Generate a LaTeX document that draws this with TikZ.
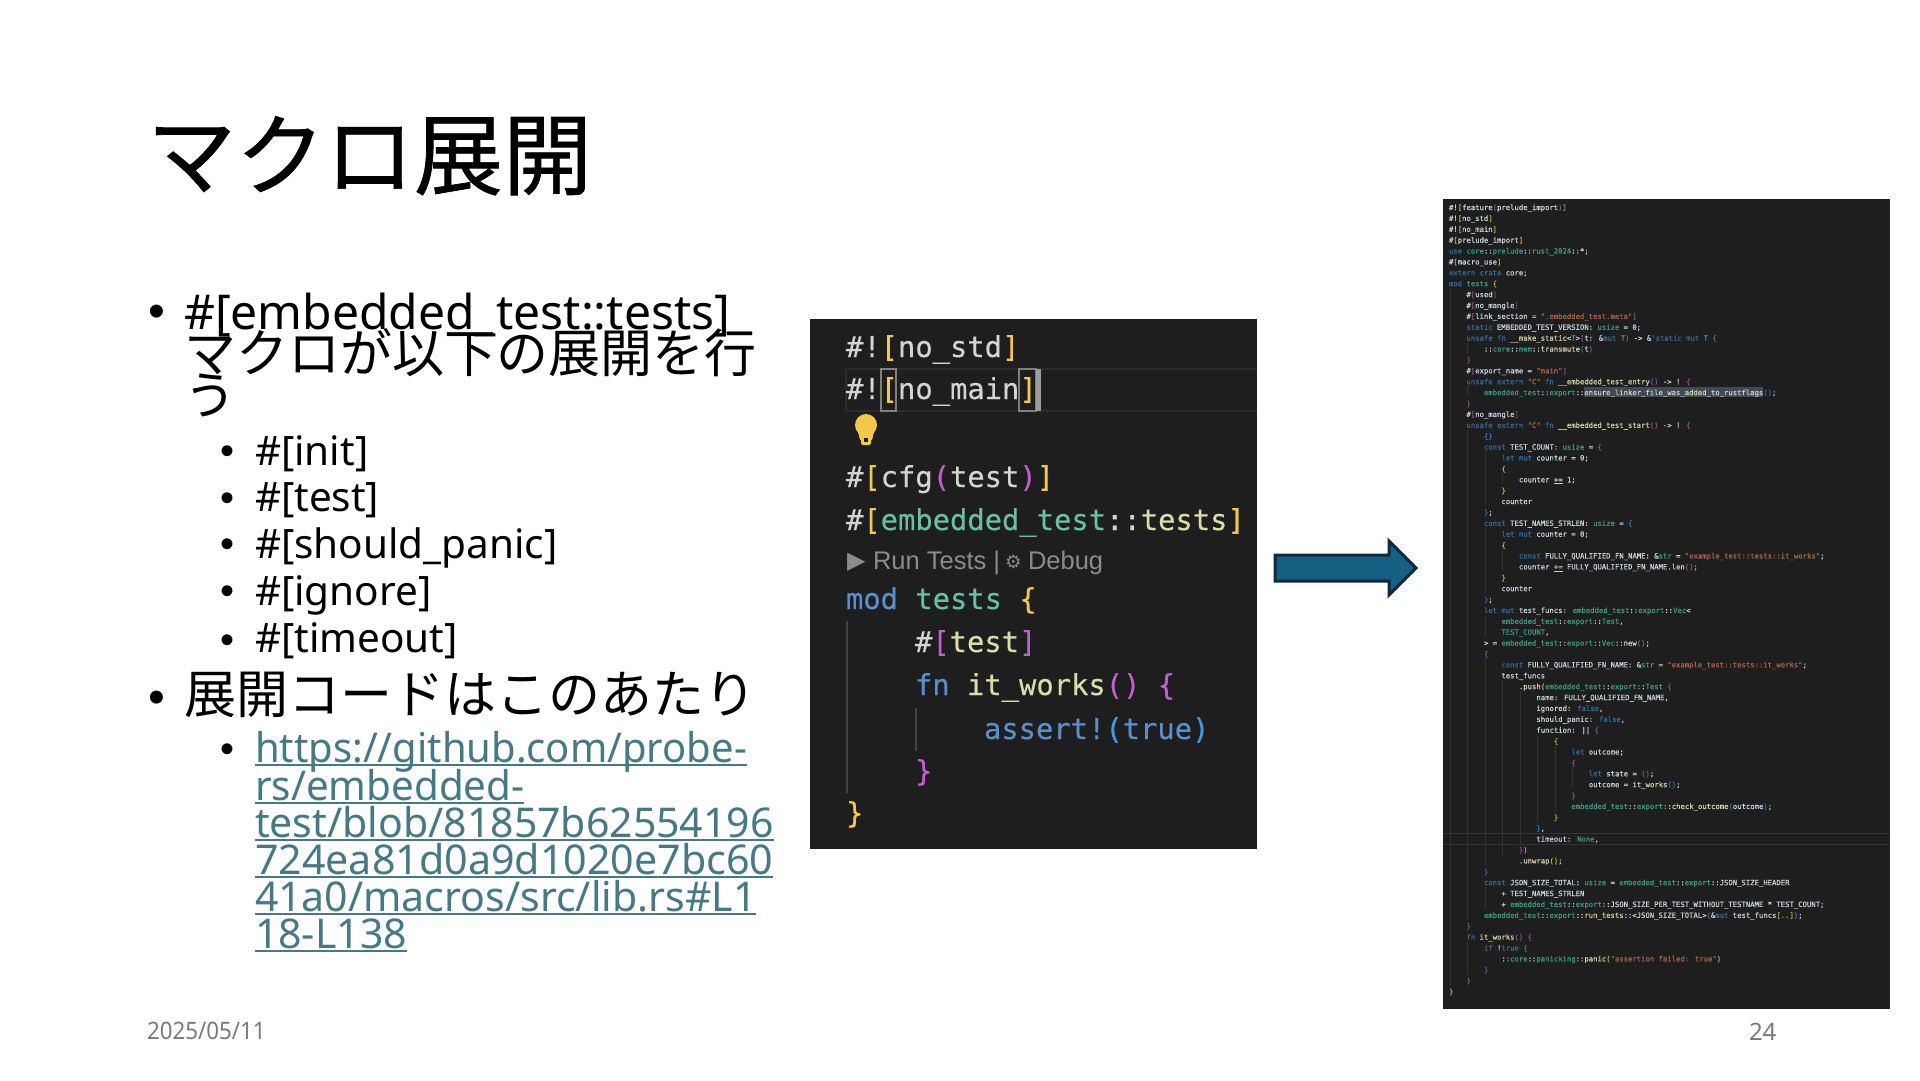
\documentclass[tikz,border=0pt]{standalone}
\usepackage{fontspec}
\setmainfont{Noto Sans}
\newfontfamily\cjkf{Noto Sans CJK JP}
\newfontfamily\cjktitle[FakeBold=0.8]{Noto Sans CJK JP}
\newfontfamily\monof[FakeBold=0.35]{DejaVu Sans Mono}
\newfontfamily\monos[FakeBold=0.5]{DejaVu Sans Mono}
\newfontfamily\bulf{Liberation Sans}
\newfontfamily\symf{DejaVu Sans}
\definecolor{pan}{HTML}{1E1E1E}
\definecolor{linkc}{HTML}{467886}
\definecolor{footc}{HTML}{7A7A7A}
\definecolor{cw}{HTML}{D4D4D4}
\definecolor{cy}{HTML}{F2C94C}
\definecolor{cp}{HTML}{C061CB}
\definecolor{ct}{HTML}{68BFA6}
\definecolor{cf}{HTML}{DCDCAA}
\definecolor{cb}{HTML}{5B8FCB}
\definecolor{cbb}{HTML}{3D9BE9}
\definecolor{gl}{HTML}{8C8C8C}
\definecolor{sk}{HTML}{336B9C}
\definecolor{sv}{HTML}{C4D4DC}
\definecolor{st}{HTML}{3C9A84}
\definecolor{ss}{HTML}{A5654A}
\definecolor{sp}{HTML}{8E4C8E}
\definecolor{sb}{HTML}{2F74B0}
\definecolor{sy}{HTML}{C8AE3C}
\definecolor{sf}{HTML}{D2D2A6}
\definecolor{gd}{HTML}{333333}
\definecolor{activel}{HTML}{2C2C2C}
\definecolor{boxc}{HTML}{808080}
\definecolor{cursorc}{HTML}{9C9C9C}
\definecolor{guidebig}{HTML}{424242}
\definecolor{selc}{HTML}{3E4A5A}
\definecolor{arrf}{HTML}{156082}
\definecolor{arrd}{HTML}{0E2A3F}
\newcommand\zk[1]{\textcolor{sk}{#1}}
\newcommand\zv[1]{\textcolor{sv}{#1}}
\newcommand\zt[1]{\textcolor{st}{#1}}
\newcommand\zs[1]{\textcolor{ss}{#1}}
\newcommand\zp[1]{\textcolor{sp}{#1}}
\newcommand\zb[1]{\textcolor{sb}{#1}}
\newcommand\zy[1]{\textcolor{sy}{#1}}
\newcommand\zf[1]{\textcolor{sf}{#1}}
\newcommand\cl[3]{\node[smallcode] (L#1) at ({1449+#2*17.48},{210+#1*10.89}) {#3};}
\newcommand\gdl[3]{\draw[guide] ({1450+#1*17.5},{201+#2*10.89}) -- ({1450+#1*17.5},{212+#3*10.89});}
\tikzset{
  txt/.style={anchor=base west,inner sep=0pt,outer sep=0pt},
  lvla/.style={txt,font=\fontsize{48}{48}\selectfont},
  lvlb/.style={txt,font=\fontsize{40.5}{40.5}\selectfont},
  jpa/.style={txt,font=\cjkf\fontsize{52}{52}\selectfont},
  urltxt/.style={txt,text=linkc,font=\fontsize{41}{41}\selectfont},
  urlline/.style={draw=linkc,line width=2pt},
  bula/.style={anchor=base,inner sep=0pt,font=\bulf\fontsize{48}{48}\selectfont},
  bulb/.style={anchor=base,inner sep=0pt,font=\bulf\fontsize{40}{40}\selectfont},
  bigcode/.style={txt,text=cw,font=\monof\fontsize{28.8}{28.8}\selectfont},
  smallcode/.style={txt,text=sv,font=\monos\fontsize{7.25}{7.25}\selectfont},
  foot/.style={txt,text=footc,font=\fontsize{24}{24}\selectfont},
  guide/.style={draw=gd,line width=0.7pt},
  lens/.style={txt,text=gl,font=\bulf\fontsize{25.5}{25.5}\selectfont},
}
\begin{document}
\begin{tikzpicture}[x=1pt,y=-1pt]
\useasboundingbox (0,0) rectangle (1920,1080);
\fill[white] (0,0) rectangle (1920,1080);

% title
\node[txt,font=\cjktitle\fontsize{89}{89}\selectfont] (title) at (147,188) {マクロ展開};

% bullets, left column
\node[bula] (ba1) at (157,327) {•};
\node[lvla] (t1) at (184,329) {\#[embedded\_test::tests]};
\node[jpa] (t1b) at (184,372) {マクロが以下の展開を行};
\node[jpa] (t1c) at (184,414) {う};
\node[bulb] (bb1) at (227,464) {•};
\node[lvlb] (s1) at (255,465) {\#[init]};
\node[bulb] (bb2) at (227,511) {•};
\node[lvlb] (s2) at (255,511) {\#[test]};
\node[bulb] (bb3) at (227,557) {•};
\node[lvlb] (s3) at (255,558) {\#[should\_panic]};
\node[bulb] (bb4) at (227,604) {•};
\node[lvlb] (s4) at (255,605) {\#[ignore]};
\node[bulb] (bb5) at (227,653) {•};
\node[lvlb] (s5) at (255,652) {\#[timeout]};
\node[bula] (ba2) at (157,713) {•};
\node[jpa] (t2) at (184,713) {展開コードはこのあたり};
\node[bulb] (bb6) at (227,762) {•};
\node[urltxt] (u1) at (255,762) {\scalebox{0.975}[1]{https://github.com/probe-}};
\node[urltxt] (u2) at (255,800) {\scalebox{0.985}[1]{rs/embedded-}};
\node[urltxt] (u3) at (255,837) {test/blob/81857b62554196};
\node[urltxt] (u4) at (255,874) {\scalebox{1.005}[1]{724ea81d0a9d1020e7bc60}};
\node[urltxt] (u5) at (255,911) {41a0/macros/src/lib.rs\#L1};
\node[urltxt] (u6) at (255,948) {18-L138};
\foreach \u in {u1,u2,u3,u4,u5,u6}{
  \draw[urlline] ([yshift=-3pt]\u.base west) -- ([yshift=-3pt]\u.base east);
}

% footer
\node[foot] (date) at (147,1039) {\scalebox{0.93}[1]{2025/05/11}};
\node[foot] (page) at (1749,1040) {24};

% code panel
\fill[pan] (810,319) rectangle (1257,849);
\draw[activel,line width=2pt] (1257,369) -- (846,369) -- (846,411) -- (1257,411);
\draw[boxc,line width=1.5pt] (881,369) rectangle (896,411);
\draw[boxc,line width=1.5pt] (1019,369) rectangle (1036,411);
\fill[cursorc] (1036,369) rectangle (1041,411);
\node[bigcode] (c1) at (846,357) {\#!\textcolor{cy}{[}no\_std\textcolor{cy}{]}};
\node[bigcode] (c2) at (846,399) {\#!\textcolor{cy}{[}no\_main\textcolor{cy}{]}};
% light bulb
\fill[cy] (866,425) circle (11);
\fill[cy] (858,432) -- (874,432) -- (872,440) -- (860,440) -- cycle;
\fill[cy,rounded corners=2pt] (861,435) rectangle (871,445);
\fill[pan] (864,438) rectangle (868,442);
\node[bigcode] (c3) at (846,487) {\#\textcolor{cy}{[}cfg\textcolor{cp}{(}test\textcolor{cp}{)}\textcolor{cy}{]}};
\node[bigcode] (c4) at (846,530) {\#\textcolor{cy}{[}\textcolor{ct}{embedded\_test}::\textcolor{cf}{tests}\textcolor{cy}{]}};
\node[lens,font=\symf\fontsize{24}{24}\selectfont] (lens1) at (847,568) {▶};
\node[lens] (lens2) at (873,569) {Run Tests | };
\node[lens,font=\symf\fontsize{18.5}{18.5}\selectfont] (lens3) at (1005,568) {⚙};
\node[lens] (lens4) at (1028,569) {Debug};
\node[bigcode] (c5) at (846,609) {\textcolor{cb}{mod} \textcolor{ct}{tests} \textcolor{cy}{\{}};
\node[bigcode] (c6) at (915,652) {\#\textcolor{cp}{[}\textcolor{cf}{test}\textcolor{cp}{]}};
\node[bigcode] (c7) at (915,695) {\textcolor{cb}{fn} \textcolor{cf}{it\_works}\textcolor{cp}{()} \textcolor{cp}{\{}};
\node[bigcode] (c8) at (984,739) {\textcolor{cb}{assert!}\textcolor{cbb}{(}\textcolor{cb}{true}\textcolor{cbb}{)}};
\node[bigcode] (c9) at (915,781) {\textcolor{cp}{\}}};
\node[bigcode] (c10) at (846,823) {\textcolor{cy}{\}}};
\draw[guidebig,line width=2pt] (847,621) -- (847,793);
\draw[guidebig,line width=2pt] (916,708) -- (916,751);

% block arrow
\draw[fill=arrf,draw=arrd,line width=3pt,miter limit=6]
 (1275,555) -- (1389,555) -- (1389,541) -- (1416,568) -- (1389,595) -- (1389,581) -- (1275,581) -- cycle;

% expanded code panel
\fill[pan] (1443,199) rectangle (1890,1009);
\fill[selc] (1584,387) rectangle (1763,397);
\draw[gd,line width=0.6pt] (1443,833) -- (1890,833);
\draw[gd,line width=0.6pt] (1443,844) -- (1890,844);
\gdl{0}{8}{71}
\gdl{1}{13}{13}\gdl{1}{17}{17}\gdl{1}{21}{65}\gdl{1}{68}{70}
\gdl{2}{23}{27}\gdl{2}{30}{35}\gdl{2}{38}{39}\gdl{2}{42}{60}\gdl{2}{63}{64}
\gdl{3}{25}{25}\gdl{3}{32}{33}\gdl{3}{44}{59}
\gdl{4}{45}{58}\gdl{5}{49}{56}\gdl{6}{50}{55}\gdl{7}{52}{53}
\cl{0}{0}{\#!\zy{[}feature\zp{(}prelude\_import\zp{)}\zy{]}}
\cl{1}{0}{\#!\zy{[}no\_std\zy{]}}
\cl{2}{0}{\#!\zy{[}no\_main\zy{]}}
\cl{3}{0}{\#\zy{[}prelude\_import\zy{]}}
\cl{4}{0}{\zk{use} \zt{core}::\zt{prelude}::\zt{rust\_2024}::*;}
\cl{5}{0}{\#\zy{[}macro\_use\zy{]}}
\cl{6}{0}{\zk{extern} \zk{crate} core;}
\cl{7}{0}{\zk{mod} \zt{tests} \zy{\{}}
\cl{8}{1}{\#\zp{[}used\zp{]}}
\cl{9}{1}{\#\zp{[}no\_mangle\zp{]}}
\cl{10}{1}{\#\zp{[}link\_section = \zs{".embedded\_test.meta"}\zp{]}}
\cl{11}{1}{\zk{static} EMBEDDED\_TEST\_VERSION: \zt{usize} = 0;}
\cl{12}{1}{\zk{unsafe} \zk{fn} \zf{\_\_make\_static}<\zt{T}>\zp{(}t: \&\zk{mut} \zt{T}\zp{)} -> \&\zk{'static} \zk{mut} \zt{T} \zp{\{}}
\cl{13}{2}{::\zt{core}::\zt{mem}::\zf{transmute}\zb{(}t\zb{)}}
\cl{14}{1}{\zp{\}}}
\cl{15}{1}{\#\zp{[}export\_name = \zs{"main"}\zp{]}}
\cl{16}{1}{\zk{unsafe} \zk{extern} \zs{"C"} \zk{fn} \zf{\_\_embedded\_test\_entry}\zp{()} -> ! \zp{\{}}
\cl{17}{2}{\zt{embedded\_test}::\zt{export}::\zf{ensure\_linker\_file\_was\_added\_to\_rustflags}\zb{()};}
\cl{18}{1}{\zp{\}}}
\cl{19}{1}{\#\zp{[}no\_mangle\zp{]}}
\cl{20}{1}{\zk{unsafe} \zk{extern} \zs{"C"} \zk{fn} \zf{\_\_embedded\_test\_start}\zp{()} -> ! \zp{\{}}
\cl{21}{2}{\zb{\{\}}}
\cl{22}{2}{\zk{const} TEST\_COUNT: \zt{usize} = \zb{\{}}
\cl{23}{3}{\zk{let} \zk{mut} counter = 0;}
\cl{24}{3}{\zy{\{}}
\cl{25}{4}{counter \underline{+=} 1;}
\cl{26}{3}{\zy{\}}}
\cl{27}{3}{counter}
\cl{28}{2}{\zb{\}};}
\cl{29}{2}{\zk{const} TEST\_NAMES\_STRLEN: \zt{usize} = \zb{\{}}
\cl{30}{3}{\zk{let} \zk{mut} counter = 0;}
\cl{31}{3}{\zy{\{}}
\cl{32}{4}{\zk{const} FULLY\_QUALIFIED\_FN\_NAME: \&\zt{str} = \zs{"example\_test::tests::it\_works"};}
\cl{33}{4}{counter \underline{+=} FULLY\_QUALIFIED\_FN\_NAME.\zf{len}\zp{()};}
\cl{34}{3}{\zy{\}}}
\cl{35}{3}{counter}
\cl{36}{2}{\zb{\}};}
\cl{37}{2}{\zk{let} \zk{mut} test\_funcs: \zt{embedded\_test}::\zt{export}::\zt{Vec}<}
\cl{38}{3}{\zt{embedded\_test}::\zt{export}::\zt{Test},}
\cl{39}{3}{\zt{TEST\_COUNT},}
\cl{40}{2}{> = \zt{embedded\_test}::\zt{export}::\zt{Vec}::\zf{new}\zb{()};}
\cl{41}{2}{\zb{\{}}
\cl{42}{3}{\zk{const} FULLY\_QUALIFIED\_FN\_NAME: \&\zt{str} = \zs{"example\_test::tests::it\_works"};}
\cl{43}{3}{test\_funcs}
\cl{44}{4}{.\zf{push}\zy{(}\zt{embedded\_test}::\zt{export}::\zt{Test} \zp{\{}}
\cl{45}{5}{name: FULLY\_QUALIFIED\_FN\_NAME,}
\cl{46}{5}{ignored: \zk{false},}
\cl{47}{5}{should\_panic: \zk{false},}
\cl{48}{5}{function: || \zb{\{}}
\cl{49}{6}{\zy{\{}}
\cl{50}{7}{\zk{let} outcome;}
\cl{51}{7}{\zp{\{}}
\cl{52}{8}{\zk{let} state = \zb{()};}
\cl{53}{8}{outcome = \zf{it\_works}\zb{()};}
\cl{54}{7}{\zp{\}}}
\cl{55}{7}{\zt{embedded\_test}::\zt{export}::\zf{check\_outcome}\zb{(}outcome\zb{)};}
\cl{56}{6}{\zy{\}}}
\cl{57}{5}{\zb{\}},}
\cl{58}{5}{timeout: \zt{None},}
\cl{59}{4}{\zp{\}}\zy{)}}
\cl{60}{4}{.\zf{unwrap}\zy{()};}
\cl{61}{2}{\zb{\}}}
\cl{62}{2}{\zk{const} JSON\_SIZE\_TOTAL: \zt{usize} = \zt{embedded\_test}::\zt{export}::JSON\_SIZE\_HEADER}
\cl{63}{3}{+ TEST\_NAMES\_STRLEN}
\cl{64}{3}{+ \zt{embedded\_test}::\zt{export}::JSON\_SIZE\_PER\_TEST\_WITHOUT\_TESTNAME * TEST\_COUNT;}
\cl{65}{2}{\zt{embedded\_test}::\zt{export}::\zf{run\_tests}::<JSON\_SIZE\_TOTAL>\zb{(}\&\zk{mut} test\_funcs\zy{[..]}\zb{)};}
\cl{66}{1}{\zp{\}}}
\cl{67}{1}{\zk{fn} \zf{it\_works}\zp{()} \zp{\{}}
\cl{68}{2}{\zk{if} !\zk{true} \zb{\{}}
\cl{69}{3}{::\zt{core}::\zt{panicking}::\zf{panic}\zy{(}\zs{"assertion failed: true"}\zy{)}}
\cl{70}{2}{\zb{\}}}
\cl{71}{1}{\zp{\}}}
\cl{72}{0}{\zy{\}}}
\end{tikzpicture}
\end{document}
